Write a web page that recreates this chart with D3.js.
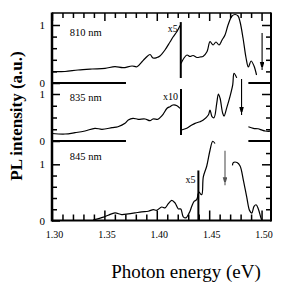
<!DOCTYPE html>
<html><head><meta charset="utf-8">
<script src="https://cdn.jsdelivr.net/npm/d3@7"></script>
<style>html,body{margin:0;padding:0;background:#fff;} svg{display:block;} text{font-family:"Liberation Serif","DejaVu Serif",serif;fill:#000;}</style>
</head><body><svg id="c" width="290" height="290"></svg>
<script>
// ---------- data ----------
const panelLabels = ["810 nm", "835 nm", "845 nm"];
const xTickLabels = ["1.30", "1.35", "1.40", "1.45", "1.50"];
const xMajorTicks = [1.30, 1.35, 1.40, 1.45, 1.50];
const xMinorTicks = [1.31,1.32,1.33,1.34,1.36,1.37,1.38,1.39,1.41,1.42,1.43,1.44,1.46,1.47,1.48,1.49];
const yTickLabels = ["0", "1"];
const yLeftMinor = [[0.2,0.4,0.6,0.8],[0.25,0.5,0.75],[0.2,0.4,0.6,0.8]];
const yRightMinor = [[0.2,0.4,0.6,0.8],[0.25,0.5,0.75],[0.2,0.4,0.6,0.8,1.2]];

// 810 nm
const pl810a = [[1.300,0.195],[1.3124,0.198],[1.3248,0.224],[1.3382,0.241],[1.3506,0.253],[1.3601,0.281],[1.3678,0.264],[1.3764,0.293],[1.3811,0.281],[1.3859,0.367],[1.3888,0.422],[1.3935,0.491],[1.3964,0.431],[1.4002,0.440],[1.4030,0.466],[1.4078,0.569],[1.4126,0.707],[1.4155,0.793],[1.4193,0.888],[1.4222,0.991]];
const pl810b = [[1.4231,0.336],[1.4260,0.431],[1.4289,0.483],[1.4317,0.457],[1.4346,0.474],[1.4384,0.440],[1.4413,0.448],[1.4441,0.457],[1.4480,0.543],[1.4508,0.712],[1.4537,0.655],[1.4565,0.707],[1.4594,0.655],[1.4623,0.741],[1.4651,0.828],[1.4680,0.999],[1.4718,1.155],[1.4747,1.181],[1.4776,1.155],[1.4795,1.052],[1.4823,0.776],[1.4852,0.431],[1.4874,0.276],[1.4900,0.379],[1.4928,0.293],[1.4952,0.138]];
// 835 nm
const pl835a = [[1.300,0.160],[1.3124,0.149],[1.3220,0.177],[1.3315,0.213],[1.3410,0.270],[1.3477,0.249],[1.3573,0.283],[1.3630,0.304],[1.3697,0.376],[1.3728,0.447],[1.3773,0.483],[1.3821,0.462],[1.3888,0.468],[1.3935,0.432],[1.3964,0.468],[1.4012,0.462],[1.4031,0.496],[1.4060,0.568],[1.4098,0.696],[1.4126,0.730],[1.4155,0.766],[1.4193,0.751],[1.4222,0.695]];
const pl835b = [[1.4236,0.234],[1.4286,0.270],[1.4334,0.340],[1.4365,0.376],[1.4413,0.411],[1.4444,0.447],[1.4492,0.553],[1.4508,0.660],[1.4527,0.518],[1.4546,0.496],[1.4572,0.800],[1.4588,1.000],[1.4604,0.910],[1.4628,0.600],[1.4642,0.530],[1.4668,0.710],[1.4699,0.950],[1.4725,1.200],[1.4737,1.440],[1.4763,1.343]];
const pl835c = [[1.4874,0.304],[1.4922,0.270],[1.4966,0.26],[1.5005,0.23],[1.5033,0.213],[1.5081,0.21],[1.509,0.22]];
// 845 nm
const pl845a = [[1.3394,0.01],[1.3490,0.06],[1.3537,0.094],[1.3601,0.135],[1.3665,0.106],[1.3728,0.118],[1.3792,0.135],[1.3856,0.153],[1.3919,0.165],[1.3967,0.194],[1.3999,0.182],[1.4047,0.240],[1.4079,0.224],[1.4110,0.299],[1.4143,0.358],[1.4174,0.312],[1.4206,0.206],[1.4229,0.206],[1.4253,0.065],[1.4279,0.047],[1.4301,0.106],[1.4317,0.164],[1.4334,0.253],[1.4356,0.341],[1.4381,0.370],[1.4394,0.48]];
const pl845b = [[1.4403,0.51],[1.4429,0.46],[1.4444,0.776],[1.4477,0.97],[1.4508,1.25],[1.4534,1.41],[1.4556,1.37]];
const pl845c = [[1.4722,0.98],[1.4731,1.032],[1.4766,1.032],[1.4795,0.97],[1.4826,0.72],[1.4859,0.41],[1.4885,0.18],[1.4907,0.13],[1.4928,0.25],[1.4948,0.28],[1.4970,0.2],[1.4995,0.04],[1.5005,0.0]];

const panelSeries = [[pl810a, pl810b], [pl835a, pl835b, pl835c], [pl845a, pl845b, pl845c]];
// zero-line segments drawn for upper two panels (energy ranges)
const zeroSegments = [[1.30, 1.3706], [1.4874, 1.509]];
// scale-change markers: panel, energy, value range, label, label value
const multMarkers = [
  {p:0, e:1.4229, v0:0.086, v1:1.05, label:"x5", lv:0.88},
  {p:1, e:1.4231, v0:0.128, v1:1.106, label:"x10", lv:0.87},
  {p:2, e:1.4397, v0:0.0, v1:0.89, label:"x5", lv:0.66}
];
// arrows: panel, energy, from value, to value, colour
const arrows = [
  {p:0, e:1.5005, v0:0.862, v1:0.224, c:"#000"},
  {p:1, e:1.4809, v0:1.319, v1:0.553, c:"#000"},
  {p:2, e:1.4651, v0:1.243, v1:0.626, c:"#555"}
];
const labelPos = [{e:1.317, v:0.81}, {e:1.317, v:0.85}, {e:1.317, v:1.07}];

// ---------- drawing ----------
const svg = d3.select("#c");
const L = 52, R = 271, T = 13, B = 220.5;
const x = d3.scaleLinear().domain([1.30, 1.509]).range([L, R]);
const ys = [
  d3.scaleLinear().domain([0,1]).range([83, 25]),
  d3.scaleLinear().domain([0,1]).range([141, 94]),
  d3.scaleLinear().domain([0,1]).range([B, 164.3])
];

svg.append("defs").append("marker")
  .attr("id","ah").attr("markerUnits","userSpaceOnUse")
  .attr("markerWidth",5).attr("markerHeight",9)
  .attr("refX",8).attr("refY",2.25).attr("orient","auto")
  .append("path").attr("d","M0,0 L8,2.25 L0,4.5 Z").attr("fill","context-stroke");

function styleAxis(g, w){
  g.select(".domain").remove();
  g.selectAll(".tick line").attr("stroke","#000").attr("stroke-width", w);
  g.selectAll("text").attr("font-size",10).attr("font-family",'"Liberation Serif",serif');
}

// bottom axis
svg.append("g").attr("transform",`translate(0,${B})`)
  .call(d3.axisBottom(x).tickValues(xMajorTicks).tickSizeInner(-10).tickSizeOuter(0).tickPadding(10)
    .tickFormat((d,i)=>xTickLabels[i]))
  .call(g=>styleAxis(g,1.5))
  .call(g=>g.selectAll("text").attr("dx",2));
svg.append("g").attr("transform",`translate(0,${B})`)
  .call(d3.axisBottom(x).tickValues(xMinorTicks).tickSizeInner(-6).tickSizeOuter(0).tickFormat(""))
  .call(g=>styleAxis(g,1.5));
// top axis
svg.append("g").attr("transform",`translate(0,${T})`)
  .call(d3.axisBottom(x).tickValues(xMajorTicks).tickSizeInner(8).tickSizeOuter(0).tickFormat(""))
  .call(g=>styleAxis(g,1.5));
svg.append("g").attr("transform",`translate(0,${T})`)
  .call(d3.axisBottom(x).tickValues(xMinorTicks).tickSizeInner(5).tickSizeOuter(0).tickFormat(""))
  .call(g=>styleAxis(g,1.5));

ys.forEach((y,i)=>{
  svg.append("g").attr("transform",`translate(${L},0)`)
    .call(d3.axisLeft(y).tickValues([0,1]).tickSizeInner(-8).tickSizeOuter(0).tickPadding(7)
      .tickFormat((d,k)=>yTickLabels[k]))
    .call(g=>styleAxis(g,1.5))
    .call(g=>g.selectAll("text").attr("font-size",11));
  svg.append("g").attr("transform",`translate(${L},0)`)
    .call(d3.axisLeft(y).tickValues(yLeftMinor[i]).tickSizeInner(-5).tickSizeOuter(0).tickFormat(""))
    .call(g=>styleAxis(g,1.5));
  svg.append("g").attr("transform",`translate(${R},0)`)
    .call(d3.axisRight(y).tickValues([1]).tickSizeInner(-9).tickSizeOuter(0).tickFormat(""))
    .call(g=>styleAxis(g,1.5));
  svg.append("g").attr("transform",`translate(${R},0)`)
    .call(d3.axisRight(y).tickValues(yRightMinor[i]).tickSizeInner(-5).tickSizeOuter(0).tickFormat(""))
    .call(g=>styleAxis(g,1.5));
});

// frame
svg.append("line").attr("x1",L).attr("x2",L).attr("y1",T-0.5).attr("y2",B+1).attr("stroke","#000").attr("stroke-width",2.5);
svg.append("line").attr("x1",R).attr("x2",R).attr("y1",T-0.5).attr("y2",B+1).attr("stroke","#000").attr("stroke-width",2);
svg.append("line").attr("x1",L).attr("x2",R).attr("y1",T).attr("y2",T).attr("stroke","#000").attr("stroke-width",1.5);
svg.append("line").attr("x1",L).attr("x2",R).attr("y1",B).attr("y2",B).attr("stroke","#000").attr("stroke-width",2);

// zero segments for panels 0,1
[0,1].forEach(i=>{
  zeroSegments.forEach(s=>{
    svg.append("line").attr("x1",x(s[0])).attr("x2",x(s[1]))
      .attr("y1",ys[i](0)).attr("y2",ys[i](0)).attr("stroke","#000").attr("stroke-width",2);
  });
});

// curves
panelSeries.forEach((segs,i)=>{
  const line = d3.line().x(d=>x(d[0])).y(d=>ys[i](d[1])).curve(d3.curveCatmullRom.alpha(0.5));
  segs.forEach(s=>{
    svg.append("path").attr("d",line(s)).attr("fill","none").attr("stroke","#000").attr("stroke-width",1.2);
  });
  svg.append("text").attr("x",x(labelPos[i].e)).attr("y",ys[i](labelPos[i].v))
    .attr("font-size",10.5).text(panelLabels[i]);
});

// multiplier markers
multMarkers.forEach(m=>{
  const y = ys[m.p];
  svg.append("line").attr("x1",x(m.e)).attr("x2",x(m.e)).attr("y1",y(m.v0)).attr("y2",y(m.v1))
    .attr("stroke","#000").attr("stroke-width",2);
  svg.append("text").attr("x",x(m.e)-3).attr("y",y(m.lv)).attr("text-anchor","end")
    .attr("font-size",10).text(m.label);
});

// arrows
arrows.forEach(a=>{
  const y = ys[a.p];
  svg.append("line").attr("x1",x(a.e)).attr("x2",x(a.e)).attr("y1",y(a.v0)).attr("y2",y(a.v1))
    .attr("stroke",a.c).attr("stroke-width",1.1).attr("marker-end","url(#ah)");
});

// axis titles
svg.append("text").attr("x",186).attr("y",278).attr("text-anchor","middle")
  .attr("font-size",19).text("Photon energy (eV)");
svg.append("text").attr("transform","translate(22,116) rotate(-90)").attr("text-anchor","middle")
  .attr("font-size",17).attr("font-weight","bold").text("PL intensity (a.u.)");
</script></body></html>
